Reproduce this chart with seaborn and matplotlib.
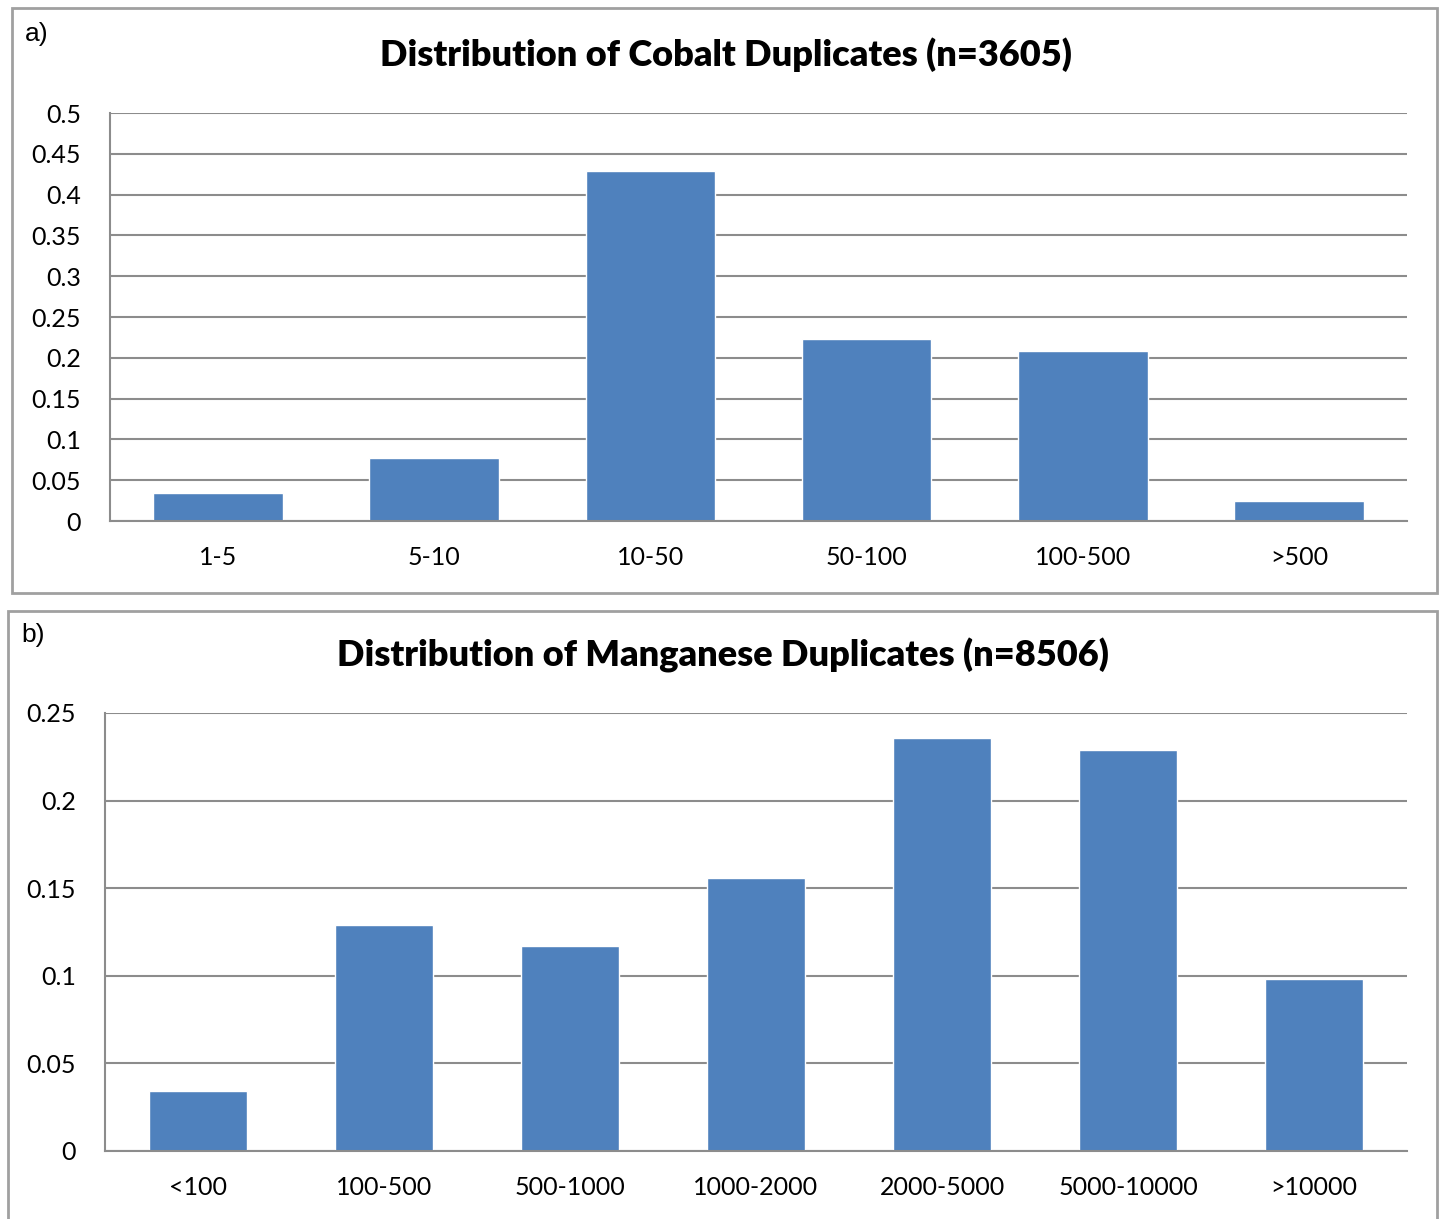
import matplotlib
matplotlib.use("Agg")
import matplotlib.pyplot as plt
import seaborn as sns
import pandas as pd
from matplotlib.patches import Rectangle

# datos
cobalt_bins = ["1-5", "5-10", "10-50", "50-100", "100-500", ">500"]
cobalt_vals = [0.034, 0.077, 0.429, 0.223, 0.208, 0.025]

mn_bins = ["<100", "100-500", "500-1000", "1000-2000", "2000-5000", "5000-10000", ">10000"]
mn_vals = [0.034, 0.129, 0.117, 0.156, 0.236, 0.229, 0.098]

df_co = pd.DataFrame({"bin": cobalt_bins, "frac": cobalt_vals})
df_mn = pd.DataFrame({"bin": mn_bins, "frac": mn_vals})

sns.set_style("white")
plt.rcParams["font.family"] = ["Lato", "DejaVu Sans"]

bar_color = "#4F81BD"
grid_color = "#8C8C8C"

fig = plt.figure(figsize=(14.4, 12.19), dpi=100)

# marcos de los paneles
for (x0, y0, w, h) in [(0.0083, 0.5135, 0.9896, 0.480), (0.0056, -0.02, 0.9924, 0.5188)]:
    fig.patches.append(Rectangle((x0, y0), w, h, transform=fig.transFigure,
                                 fill=False, edgecolor="#A0A0A0", linewidth=2))

fig.text(0.017, 0.972, "a)", fontsize=19, family="Liberation Sans", va="center", color="black")
fig.text(0.015, 0.479, "b)", fontsize=19, family="Liberation Sans", va="center", color="black")


def panel(ax, data, title, ymax, step, width, ypad, title_xy):
    sns.barplot(data=data, x="bin", y="frac", color=bar_color, saturation=1,
                width=width, ax=ax)
    ax.set_ylim(0, ymax)
    ticks = [round(i * step, 3) for i in range(int(round(ymax / step)) + 1)]
    ax.set_yticks(ticks)
    ax.set_yticklabels(["%g" % t for t in ticks])
    ax.yaxis.grid(True, color=grid_color, linewidth=1.5)
    ax.set_axisbelow(True)
    for s in ["top", "right"]:
        ax.spines[s].set_visible(False)
    for s in ["left", "bottom"]:
        ax.spines[s].set_color(grid_color)
        ax.spines[s].set_linewidth(1.5)
    ax.tick_params(axis="both", length=0, labelsize=18, colors="black")
    ax.tick_params(axis="x", pad=18)
    ax.tick_params(axis="y", pad=ypad)
    ax.set_xlabel("")
    ax.set_ylabel("")
    fig.text(title_xy[0], title_xy[1], title, fontsize=26, fontweight="heavy",
             ha="center", va="center", color="black")


ax1 = fig.add_axes([0.0764, 0.5726, 0.9007, 0.3347])
panel(ax1, df_co, "Distribution of Cobalt Duplicates (n=3605)", 0.5, 0.05, 0.6,
      21, (0.504, 1 - 55 / 1219))

ax2 = fig.add_axes([0.0729, 0.0558, 0.9042, 0.3593])
panel(ax2, df_mn, "Distribution of Manganese Duplicates (n=8506)", 0.25, 0.05, 0.53,
      21, (0.502, 1 - 655 / 1219))

fig.savefig("out.png", dpi=100)
